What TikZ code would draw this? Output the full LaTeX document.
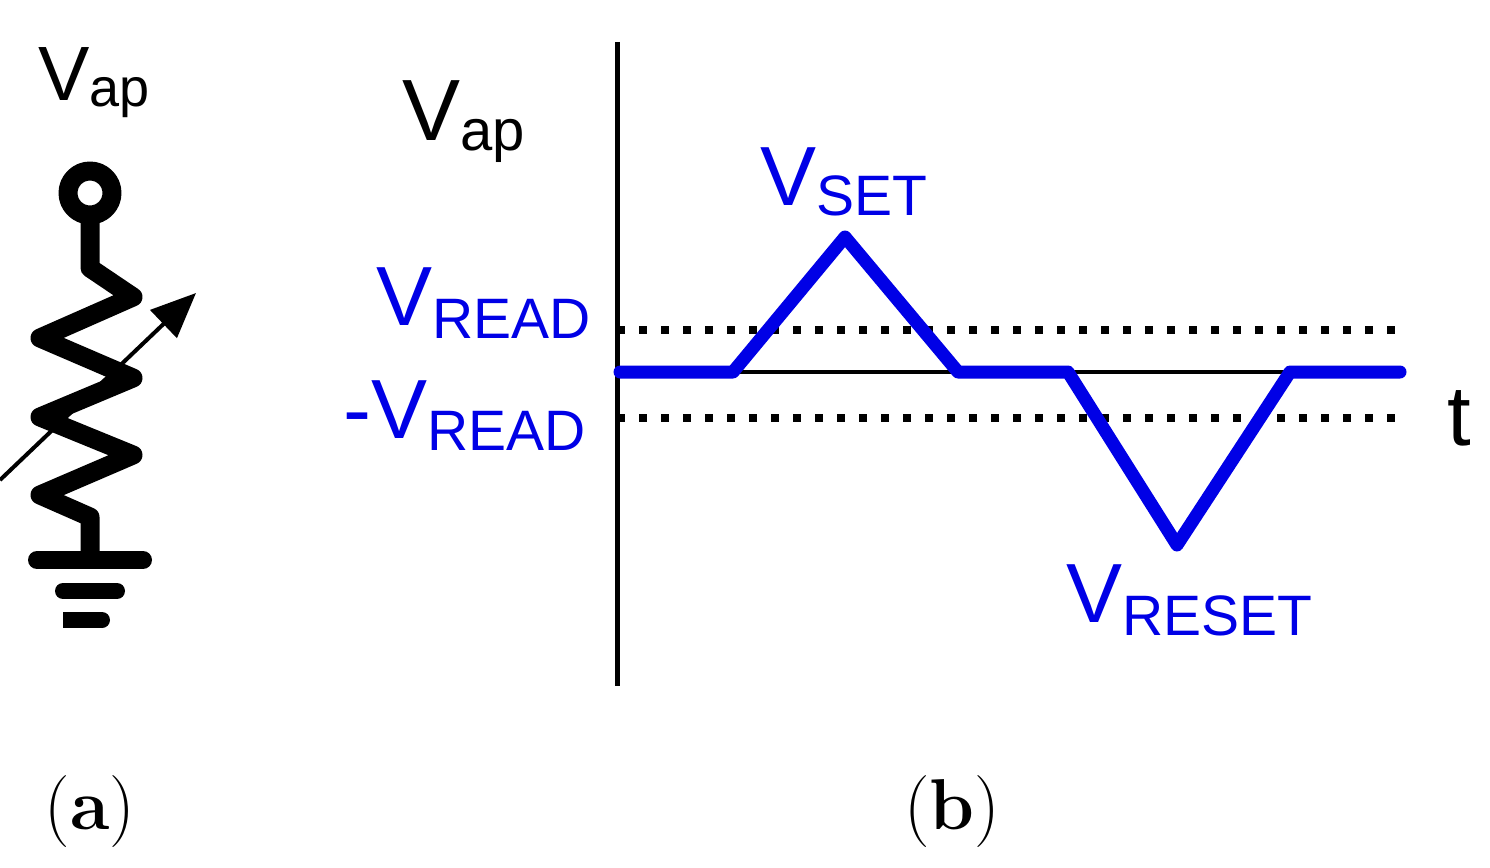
\documentclass[tikz,border=0pt]{standalone}
\usepackage{fontspec}
\setmainfont{Liberation Sans}
\newfontfamily\lmr{Latin Modern Roman}
\usetikzlibrary{arrows.meta}
\definecolor{wblue}{RGB}{0,0,230}
\newcommand{\fs}[1]{\fontsize{#1}{#1}\selectfont}
\begin{document}
\begin{tikzpicture}[x=1pt,y=-1pt,
  thick/.style={line width=19pt,line join=round},
  lab/.style={anchor=base west,inner sep=0pt},
  wave/.style={wblue,line width=13pt,line cap=round,line join=round},
  dots/.style={line width=8pt,dash pattern=on 8pt off 14pt}]
\useasboundingbox (0,0) rectangle (1490,867);
% (a) resistor
\draw[thick] (90,193) circle (22);
\coordinate (top) at (90,215);
\draw[thick,line cap=butt] (top) -- (90,268) -- (133,297) -- (40,338) -- (133,378) -- (40,417) -- (133,455) -- (40,495) -- (90,517) -- (90,557);
\draw[line width=18pt,line cap=round] (37,560) -- (143,560);
\draw[line width=16pt,line cap=round] (63,591) -- (117,591);
\fill (63,612) rectangle (102,628);
\fill (102,620) circle (8);
\draw[line width=4pt,-{Triangle[length=45pt,width=38pt]}] (0,480) -- (196,293);
\node[lab] (va) at (38,100) {\fs{77}V\raisebox{-6pt}{\fs{54}ap}};
% (b) graph
\draw[line width=5pt] (617,42) -- (617,686);
\draw[line width=4pt] (617,372) -- (1400,372);
\draw[dots] (617,330) -- (1400,330);
\draw[dots] (617,418) -- (1400,418);
\draw[wave] (620,372) -- (733,372) -- (845,237) -- (958,372) -- (1068,372) -- (1177,545) -- (1290,372) -- (1400,372);
\node[lab] (vap) at (402,140) {\fs{87}V\raisebox{-10pt}{\fs{58}ap}};
\node[lab,wblue] (vset) at (760,205) {\fs{84}V\raisebox{-10pt}{\fs{57}SET}};
\node[lab,wblue] (vread) at (376,325) {\fs{84}V\raisebox{-13pt}{\fs{57}READ}};
\node[lab,wblue] (mvread) at (343,438) {\fs{84}-V\raisebox{-12pt}{\fs{57}READ}};
\node[lab,wblue] (vreset) at (1066,622) {\fs{84}V\raisebox{-13pt}{\fs{57}RESET}};
\node[lab] (t) at (1447,445) {\fs{85}t};
\node (a) at (90,812) {\lmr\fs{72}(\textbf{a})};
\node (b) at (952,812) {\lmr\fs{72}(\textbf{b})};
\end{tikzpicture}
\end{document}
